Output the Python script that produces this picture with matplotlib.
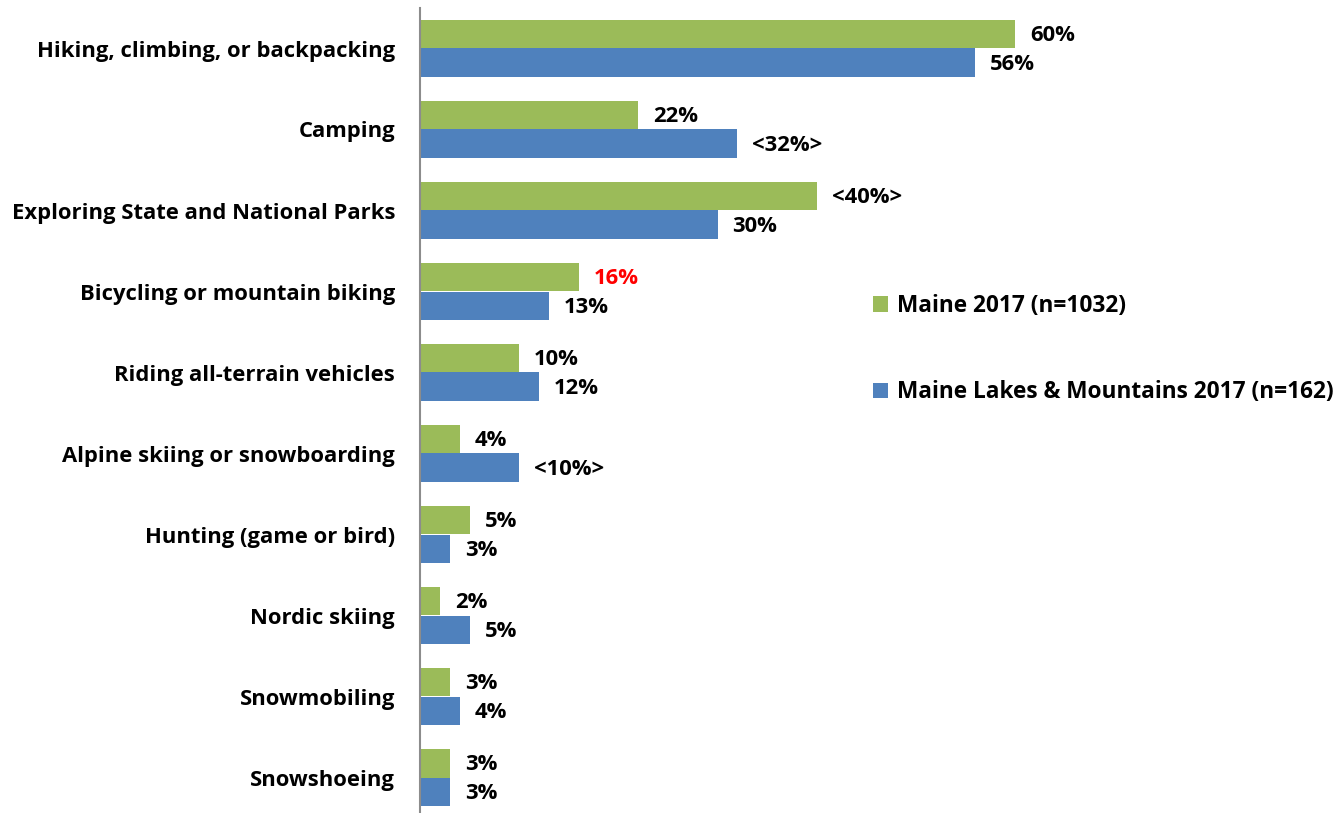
import numpy as np
import matplotlib.pyplot as plt

plt.rcParams['font.family'] = ['Open Sans', 'DejaVu Sans']
plt.rcParams['font.weight'] = 'bold'

# 活动类别与两组调查的比例（%）
categories = ["Hiking, climbing, or backpacking", "Camping",
              "Exploring State and National Parks", "Bicycling or mountain biking",
              "Riding all-terrain vehicles", "Alpine skiing or snowboarding",
              "Hunting (game or bird)", "Nordic skiing", "Snowmobiling", "Snowshoeing"]
maine = [60, 22, 40, 16, 10, 4, 5, 2, 3, 3]
lakes = [56, 32, 30, 13, 12, 10, 3, 5, 4, 3]
maine_labels = ["60%", "22%", "<40%>", "16%", "10%", "4%", "5%", "2%", "3%", "3%"]
lakes_labels = ["56%", "<32%>", "30%", "13%", "12%", "<10%>", "3%", "5%", "4%", "3%"]
series_names = ["Maine 2017 (n=1032)", "Maine Lakes & Mountains 2017 (n=162)"]

green = "#9bbb59"
blue = "#4f81bd"
fs = 15.8

fig = plt.figure(figsize=(13.37, 8.13), dpi=100)
W, H = 1337, 813
# 坐标轴区域（像素换算）
ax = fig.add_axes([420 / W, (H - 818) / H, (1337 - 420) / W, 810 / H])

y = np.arange(len(categories))
h = 0.358
ax.barh(y - h / 2, maine, height=h, color=green, label=series_names[0])
ax.barh(y + h / 2, lakes, height=h, color=blue, label=series_names[1])

ax.set_xlim(0, 917 / 9.917)
ax.set_ylim(len(categories) - 0.5, -0.5)

# 数值标签
for i in range(len(categories)):
    c = "#ff0000" if i == 3 else "black"
    ax.text(maine[i] + 1.5, y[i] - h / 2 + 0.02, maine_labels[i], va="center", ha="left",
            fontsize=fs, fontweight="bold", color=c)
    ax.text(lakes[i] + 1.5, y[i] + h / 2 + 0.02, lakes_labels[i], va="center", ha="left",
            fontsize=fs, fontweight="bold", color="black")

ax.set_yticks(y)
ax.set_yticklabels(categories, fontsize=fs, fontweight="bold")
ax.tick_params(axis="y", length=0, pad=18)
ax.set_xticks([])

for s in ["top", "right", "bottom"]:
    ax.spines[s].set_visible(False)
ax.spines["left"].set_color("#8c8c8c")
ax.spines["left"].set_linewidth(1.5)

# 图例
ax.legend(loc="upper left", bbox_to_anchor=(873 / W, (H - 294) / H),
          bbox_transform=fig.transFigure, frameon=False, fontsize=16.3,
          handlelength=0.65, handleheight=0.65, handletextpad=0.4,
          labelspacing=2.75, borderpad=0, borderaxespad=0)

plt.savefig("out.png", dpi=100)
